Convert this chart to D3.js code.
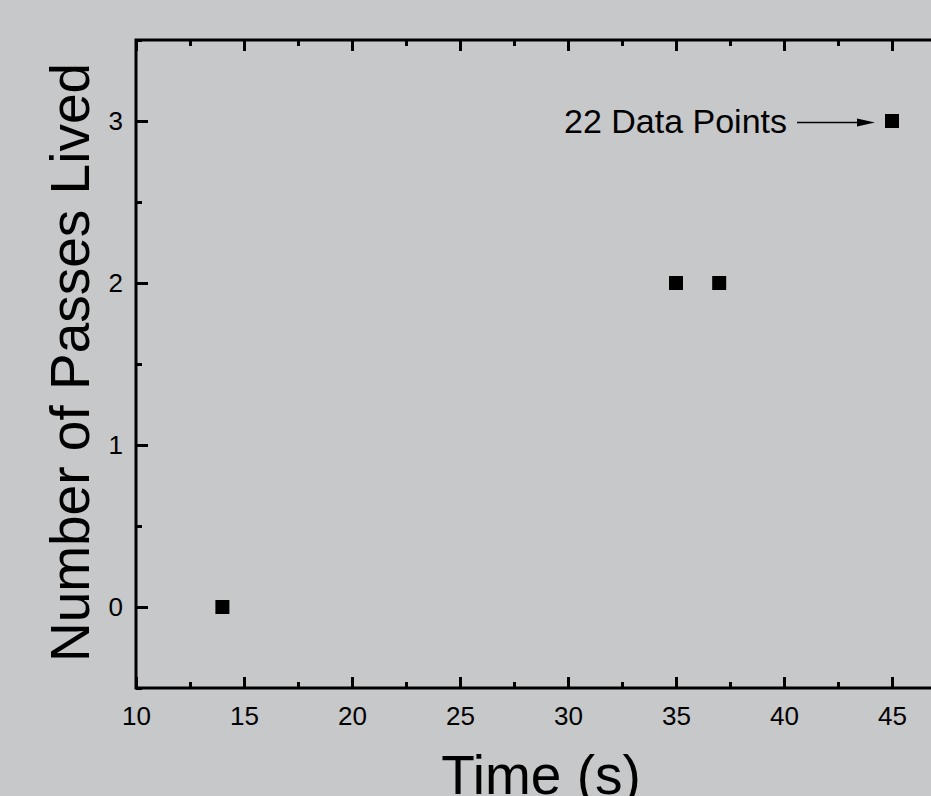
<!DOCTYPE html>
<html>
<head>
<meta charset="utf-8">
<script src="https://cdn.jsdelivr.net/npm/d3@7"></script>
<style>
  html, body { margin: 0; padding: 0; background: #c8c9cb; }
  svg { display: block; font-family: Arial, "Liberation Sans", sans-serif; }
</style>
</head>
<body>
<svg id="chart" width="931" height="796"></svg>
<script>
// ---- data ----
const times = [14, 35, 37, 45];
const passes = [0, 2, 2, 3];
const xTickValues = [10, 15, 20, 25, 30, 35, 40, 45];
const xMinorTicks = [12.5, 17.5, 22.5, 27.5, 32.5, 37.5, 42.5, 47.5];
const yTickValues = [0, 1, 2, 3];
const yMinorTicks = [-0.5, 0.5, 1.5, 2.5, 3.5];
const annotationText = ["22 Data Points"];
const annotationTarget = [45, 3];
const xTitle = "Time (s)";
const yTitle = "Number of Passes Lived";

// ---- layout ----
const W = 931, H = 796;
const pL = 136, pT = 40, pR = 946, pB = 688;
const svg = d3.select("#chart");
svg.append("rect").attr("width", W).attr("height", H).attr("fill", "#c7c8ca");

const x = d3.scaleLinear().domain([10, 47.5]).range([pL, pR]);
const y = d3.scaleLinear().domain([-0.5, 3.5]).range([pB, pT]);

function styleAxis(g, labels) {
  g.select(".domain").remove();
  g.selectAll(".tick line").attr("stroke", "#000").attr("stroke-width", 3);
  if (!labels) g.selectAll(".tick text").remove();
  else g.selectAll(".tick text").attr("fill", "#000").attr("font-size", 26)
        .attr("font-family", "Arial, 'Liberation Sans', sans-serif");
}

// bottom axis
const gB = svg.append("g").attr("transform", `translate(0,${pB})`)
  .call(d3.axisBottom(x).tickValues(xTickValues).tickSize(-11).tickPadding(0).tickFormat(d3.format("d")));
styleAxis(gB, true);
gB.selectAll(".tick text").attr("y", 37).attr("dy", 0);
const gBm = svg.append("g").attr("transform", `translate(0,${pB})`)
  .call(d3.axisBottom(x).tickValues(xMinorTicks).tickSize(-6));
styleAxis(gBm, false);

// top axis
const gT = svg.append("g").attr("transform", `translate(0,${pT})`)
  .call(d3.axisTop(x).tickValues(xTickValues).tickSize(-11));
styleAxis(gT, false);
const gTm = svg.append("g").attr("transform", `translate(0,${pT})`)
  .call(d3.axisTop(x).tickValues(xMinorTicks).tickSize(-6));
styleAxis(gTm, false);

// left axis
const gL = svg.append("g").attr("transform", `translate(${pL},0)`)
  .call(d3.axisLeft(y).tickValues(yTickValues).tickSize(-12).tickPadding(13).tickFormat(d3.format("d")));
styleAxis(gL, true);
gL.selectAll(".tick text").attr("dy", "0.33em");
const gLm = svg.append("g").attr("transform", `translate(${pL},0)`)
  .call(d3.axisLeft(y).tickValues(yMinorTicks).tickSize(-6));
styleAxis(gLm, false);

// right axis
const gR = svg.append("g").attr("transform", `translate(${pR},0)`)
  .call(d3.axisRight(y).tickValues(yTickValues).tickSize(-12));
styleAxis(gR, false);

// frame
svg.append("rect").attr("x", pL).attr("y", pT)
  .attr("width", pR - pL).attr("height", pB - pT)
  .attr("fill", "none").attr("stroke", "#000").attr("stroke-width", 3);

// points
const ms = 14;
svg.append("g").selectAll("rect").data(times.map((t, i) => [t, passes[i]]))
  .join("rect")
  .attr("x", d => x(d[0]) - ms / 2)
  .attr("y", d => y(d[1]) - ms / 2)
  .attr("width", ms).attr("height", ms)
  .attr("fill", "#000");

// annotation
const ax = x(annotationTarget[0]), ay = y(annotationTarget[1]);
svg.append("text").attr("x", ax - 105).attr("y", ay + 12)
  .attr("text-anchor", "end").attr("font-size", 34).attr("fill", "#000")
  .text(annotationText[0]);
svg.append("line").attr("x1", ax - 95).attr("x2", ax - 30)
  .attr("y1", ay + 1.5).attr("y2", ay + 1.5)
  .attr("stroke", "#000").attr("stroke-width", 1.5);
svg.append("path")
  .attr("d", `M${ax - 17},${ay + 1.5} L${ax - 35},${ay - 2.5} L${ax - 35},${ay + 5.5} Z`)
  .attr("fill", "#000");

// titles
svg.append("text").attr("x", (pL + pR) / 2).attr("y", 794)
  .attr("text-anchor", "middle").attr("font-size", 55).attr("fill", "#000")
  .text(xTitle);
svg.append("text").attr("transform", `translate(89,${(660 + 65) / 2}) rotate(-90)`)
  .attr("text-anchor", "middle").attr("font-size", 55).attr("fill", "#000")
  .text(yTitle);
</script>
</body>
</html>
